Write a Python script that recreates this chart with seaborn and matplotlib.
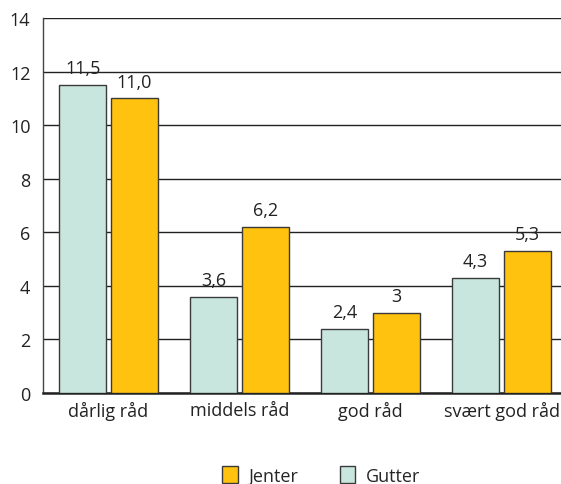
import matplotlib
matplotlib.use("Agg")
import matplotlib.pyplot as plt
import seaborn as sns
import pandas as pd
from matplotlib.patches import Patch

categories = ["dårlig råd", "middels råd", "god råd", "svært god råd"]
gutter = [11.5, 3.6, 2.4, 4.3]
jenter = [11.0, 6.2, 3.0, 5.3]
gutter_labels = ["11,5", "3,6", "2,4", "4,3"]
jenter_labels = ["11,0", "6,2", "3", "5,3"]
series = ["Gutter", "Jenter"]
yticks = [0, 2, 4, 6, 8, 10, 12, 14]

c_gutter = "#c8e6dd"
c_jenter = "#ffc20e"
edge = "#3a3a3a"

sns.set_theme(style="white")
plt.rcParams["font.family"] = ["Open Sans", "DejaVu Sans"]

df = pd.DataFrame({
    "kategori": categories * 2,
    "verdi": gutter + jenter,
    "kjonn": [series[0]] * 4 + [series[1]] * 4,
})

fig = plt.figure(figsize=(5.61, 4.85), dpi=100)
ax = fig.add_axes([43 / 561, 91 / 485, 524 / 561, 375 / 485])

sns.barplot(data=df, x="kategori", y="verdi", hue="kjonn", hue_order=series,
            order=categories, palette=[c_gutter, c_jenter], saturation=1,
            width=0.79, gap=0.09, edgecolor=edge, linewidth=1.0, ax=ax,
            legend=False, zorder=3)

for cont, labs in zip(ax.containers, [gutter_labels, jenter_labels]):
    ax.bar_label(cont, labels=labs, padding=5.5, fontsize=13, color="#222222")

ax.set_xlim(-0.5, 3.5)
ax.set_ylim(0, 14)
ax.set_yticks(yticks)
ax.set_yticklabels([str(v) for v in yticks], fontsize=13, color="#222222")
ax.set_xticks(range(len(categories)))
ax.set_xticklabels(categories, fontsize=13, color="#222222")
ax.tick_params(axis="x", length=0, pad=6)
ax.tick_params(axis="y", length=0, pad=9)
ax.set_xlabel("")
ax.set_ylabel("")

ax.yaxis.grid(True, color="#222222", linewidth=1.0, zorder=0)
ax.set_axisbelow(True)
ax.set_xticks([0.5, 1.5, 2.5], minor=True)
ax.tick_params(axis="x", which="minor", direction="in", length=5, width=1, color="#333333")

for s in ["top", "right"]:
    ax.spines[s].set_visible(False)
ax.spines["left"].set_color("#444444")
ax.spines["left"].set_linewidth(1.0)
ax.spines["bottom"].set_color("#222222")
ax.spines["bottom"].set_linewidth(1.8)

handles = [Patch(facecolor=c_jenter, edgecolor=edge, label="Jenter"),
           Patch(facecolor=c_gutter, edgecolor=edge, label="Gutter")]
fig.legend(handles=handles, loc="lower center", bbox_to_anchor=(0.573, -0.035), ncol=2,
           frameon=False, fontsize=13, handlelength=0.85, handleheight=1.05,
           handletextpad=0.6, columnspacing=2.3)

fig.savefig("out.png", dpi=100)
